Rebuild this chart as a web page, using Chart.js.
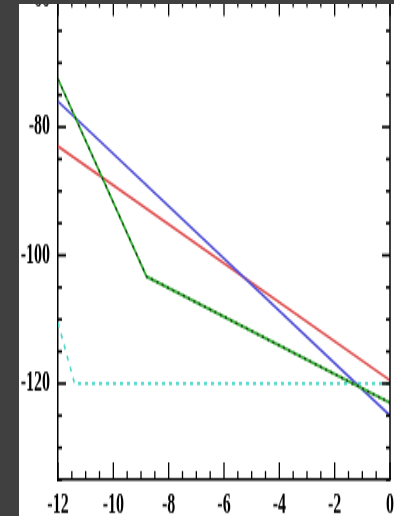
<!DOCTYPE html>
<html>
<head>
<meta charset="utf-8">
<script src="https://cdn.jsdelivr.net/npm/chart.js@4/dist/chart.umd.min.js"></script>
<style>
  html, body { margin: 0; padding: 0; width: 394px; height: 516px; overflow: hidden; background: #404040; }
  #frame { position: absolute; left: 19px; top: 4px; width: 375px; height: 512px; background: #fff; overflow: hidden; }
  #plot { position: absolute; left: 0; top: 0; transform-origin: 0 0; }
</style>
</head>
<body>
<div id="frame"><canvas id="plot" width="400" height="323"></canvas></div>
<script>
// Axis ticks that carry a label
const xMajorTicks = [-12, -10, -8, -6, -4, -2, 0];
const yMajorTicks = [-60, -80, -100, -120];

// Series (x, y)
const blueX  = [-12, 0];
const blueY  = [-76, -125];
const redX   = [-12, 0];
const redY   = [-83, -119.5];
const greenX = [-12, -8.8, 0];
const greenY = [-72.5, -103.3, -123];
const cyanX  = [-12, -11.4, 0];
const cyanY  = [-110.5, -120, -120];

const pts = (xs, ys) => xs.map((x, i) => ({ x: x, y: ys[i] }));

const lineBase = { pointRadius: 0, tension: 0, fill: false, borderWidth: 1.6 };

// Inward tick marks on all four sides plus the right/top frame lines
const innerTicks = {
  id: 'innerTicks',
  afterDatasetsDraw(chart) {
    const { ctx, chartArea: a, scales: { x, y } } = chart;
    const seg = (x1, y1, x2, y2) => { ctx.beginPath(); ctx.moveTo(x1, y1); ctx.lineTo(x2, y2); ctx.stroke(); };
    ctx.save();
    ctx.strokeStyle = '#000';
    ctx.lineWidth = 1.5;
    ctx.beginPath();
    ctx.moveTo(a.right, a.bottom); ctx.lineTo(a.right, a.top); ctx.lineTo(a.left, a.top);
    ctx.stroke();
    ctx.lineWidth = 1.3;
    x.ticks.forEach(t => {
      const px = x.getPixelForValue(t.value);
      const len = xMajorTicks.includes(t.value) ? 10 : 5;
      seg(px, a.bottom, px, a.bottom - len);
      seg(px, a.top, px, a.top + len);
    });
    ctx.lineWidth = 1.6;
    y.ticks.forEach(t => {
      if (t.value % 5 !== 0) return;
      const py = y.getPixelForValue(t.value);
      const len = yMajorTicks.includes(t.value) ? 8 : 4;
      seg(a.left, py, a.left + len, py);
      seg(a.right, py, a.right - len, py);
    });
    ctx.restore();
  }
};

const tickFont = { family: 'Liberation Serif', size: 16, weight: 'bold' };

// Chart.js paints lower dataset indexes last (on top), so the dark
// dashed trace comes before the solid green one it overlays.
const canvas = document.getElementById('plot');
const chart = new Chart(canvas, {
  type: 'line',
  data: {
    datasets: [
      { ...lineBase, data: pts(greenX, greenY), borderColor: '#1c361c', borderWidth: 1.3, borderDash: [2, 3.5] },
      { ...lineBase, data: pts(greenX, greenY), borderColor: '#33b033', borderWidth: 1.8 },
      { ...lineBase, data: pts(blueX, blueY), borderColor: '#5050d8' },
      { ...lineBase, data: pts(redX, redY), borderColor: '#e05050' },
      { ...lineBase, data: pts(cyanX, cyanY), borderColor: '#45d6c8', borderDash: [3, 4] }
    ]
  },
  options: {
    responsive: false,
    animation: false,
    layout: { padding: { left: 0, right: 29, top: 10, bottom: 0 } },
    plugins: { legend: { display: false }, tooltip: { enabled: false } },
    scales: {
      x: {
        type: 'linear',
        min: -12, max: 0,
        grid: { display: false, drawTicks: false },
        border: { display: true, color: '#000', width: 1.5 },
        ticks: {
          stepSize: 0.5, autoSkip: false, maxRotation: 0, padding: 5,
          color: '#000', font: tickFont,
          callback: v => xMajorTicks.includes(v) ? String(v) : ''
        },
        afterFit: s => { s.height = 30; }
      },
      y: {
        type: 'linear',
        min: -135, max: -60,
        grid: { display: false, drawTicks: false },
        border: { display: true, color: '#000', width: 1.5 },
        ticks: {
          stepSize: 5, autoSkip: false, padding: 8,
          color: '#000', font: tickFont,
          callback: v => yMajorTicks.includes(v) ? String(v) : ''
        },
        afterFit: s => { s.width = 39; }
      }
    }
  },
  plugins: [innerTicks]
});

// Tall, narrow rendering: stretch the canvas vertically so the plot
// spans 481px on screen with its top edge just above the frame.
const ca = chart.chartArea;
const stretch = 481 / (ca.bottom - ca.top);
canvas.style.transform = 'scale(1,' + stretch + ')';
canvas.style.top = (-5 - stretch * ca.top) + 'px';
</script>
</body>
</html>
